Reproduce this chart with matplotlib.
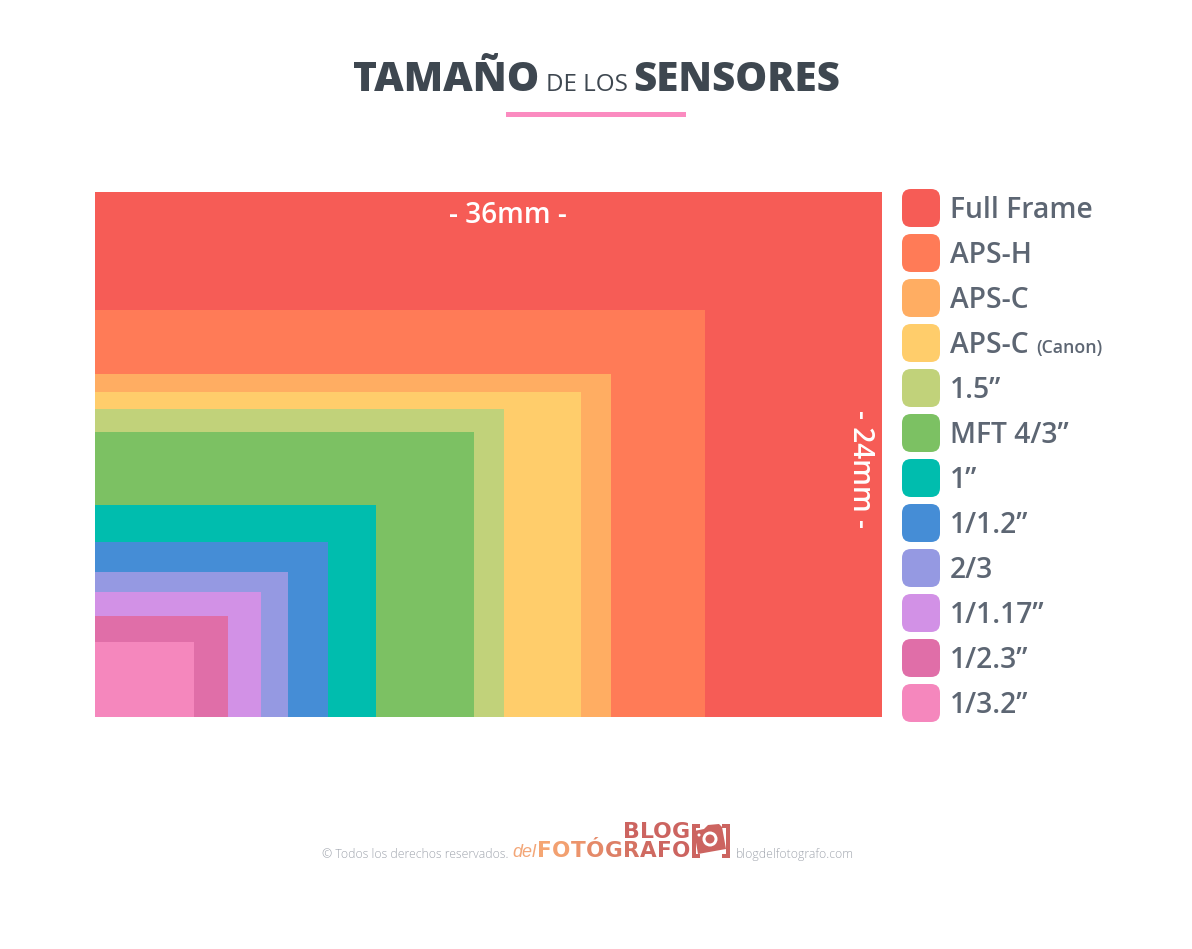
#!/usr/bin/env python3
"""Tamano de los sensores: nested sensor rectangles, all anchored bottom-left."""

import matplotlib
matplotlib.use("Agg")
import matplotlib.pyplot as plt
from matplotlib.patches import Circle, FancyBboxPatch, Polygon, Rectangle

W, H = 1192, 949

sensor_names = ["Full Frame", "APS-H", "APS-C", "APS-C", "1.5”", "MFT 4/3”",
                "1”", "1/1.2”", "2/3", "1/1.17”", "1/2.3”", "1/3.2”"]
widths_mm = [36.0, 27.9, 23.6, 22.25, 18.7, 17.35, 12.85, 10.65, 8.83, 7.6, 6.08, 4.54]
heights_mm = [24.0, 18.6, 15.7, 14.85, 14.1, 13.05, 9.7, 8.0, 6.65, 5.7, 4.6, 3.42]
colors = ["#f65c56", "#ff7b57", "#ffad62", "#ffcd6b", "#c1d27a", "#7cc163",
          "#00bdae", "#458dd6", "#9599e2", "#d291e6", "#e06ea8", "#f587bd"]

TEXT_DARK = "#3e4750"
TEXT_MID = "#5d6673"
FONT = "Open Sans"

fig = plt.figure(figsize=(W / 100, H / 100), dpi=100, facecolor="white")

# page axes in pixel coordinates, used for text, legend and logo
page = fig.add_axes([0, 0, 1, 1])
page.set_xlim(0, W)
page.set_ylim(H, 0)
page.axis("off")

# sensor axes in millimetres
ax = fig.add_axes([95 / W, 1 - 717 / H, 787 / W, 525 / H])
ax.set_xlim(0, 36)
ax.set_ylim(0, 24)
ax.axis("off")
for w, h, c in zip(widths_mm, heights_mm, colors):
    ax.add_patch(Rectangle((0, 0), w, h, facecolor=c, edgecolor="none"))

ax.text(0.525, 0.956, "- 36mm -", transform=ax.transAxes, ha="center", va="center",
        color="white", fontsize=20.2, family=FONT, fontweight="semibold")
ax.text(0.973, 0.473, "- 24mm -", transform=ax.transAxes, ha="center", va="center",
        rotation=-90, color="white", fontsize=20.2, family=FONT, fontweight="semibold")


def put(x, y, s, size, color, weight="normal", ha="left", style="normal", family=FONT):
    return page.text(x, y, s, fontsize=size, color=color, fontweight=weight, ha=ha,
                     va="baseline", style=style, family=family)


def spaced_letters(x0, x1, y, word, size, word_colors):
    """Lay letters of a logo word side by side so they fill x0..x1."""
    texts = [put(0, y, s, size, c, "bold", family="DejaVu Sans")
             for s, c in zip(word, word_colors)]
    renderer = fig.canvas.get_renderer()
    widths = [t.get_window_extent(renderer).width for t in texts]
    gap = (x1 - x0 - sum(widths)) / (len(word) - 1)
    x = x0
    for t, w in zip(texts, widths):
        t.set_x(x)
        x += w + gap


# title
put(353, 91, "TAMAÑO", 29.3, TEXT_DARK, "heavy")
put(546, 91, "DE LOS", 17.4, TEXT_DARK)
put(633, 91, "SENSORES", 29, TEXT_DARK, "heavy")
page.add_patch(Rectangle((506, 112), 180, 5, facecolor="#fb8bc0", edgecolor="none"))

# legend
for i, (name, c) in enumerate(zip(sensor_names, colors)):
    top = 189 + 45 * i
    page.add_patch(FancyBboxPatch((902 + 8, top + 8), 22, 22,
                                  boxstyle="round,pad=8,rounding_size=9",
                                  facecolor=c, edgecolor="none"))
    put(950, top + 29, name, 20.3, TEXT_MID, "semibold")
    if i == 3:
        put(1036, top + 29, "(Canon)", 12.8, TEXT_MID, "semibold")

# footer
put(322, 858, "© Todos los derechos reservados.", 8.7, "#9fa4ad", "light")
put(736, 858, "blogdelfotografo.com", 8.7, "#9fa4ad", "light")

# logo
put(512, 857, "del", 13, "#f3a677", style="italic", family="Liberation Sans")
logo_red = "#cc6460"
fotografo_colors = ["#f5a673", "#f2a070", "#ec946c", "#e58a69", "#dd7f66",
                    "#d57363", "#cf6a61", "#cd6661", "#cc6460"]
spaced_letters(537, 690, 857, "FOTÓGRAFO", 15.5, fotografo_colors)
spaced_letters(623, 690, 838, "BLOG", 15.8, [logo_red] * 4)

for x0, x1, side in ((692, 700, 692), (722, 730, 726)):
    page.add_patch(Rectangle((x0, 824), x1 - x0, 4, facecolor=logo_red, edgecolor="none"))
    page.add_patch(Rectangle((x0, 854), x1 - x0, 4, facecolor=logo_red, edgecolor="none"))
    page.add_patch(Rectangle((side, 824), 4, 34, facecolor=logo_red, edgecolor="none"))
page.add_patch(Polygon([(694, 831), (704, 829), (708, 825), (719, 824), (722, 827),
                        (726, 849), (698, 854)],
                       facecolor=logo_red, edgecolor="none"))
page.add_patch(Circle((710, 839), 7.5, facecolor="white", edgecolor="none"))
page.add_patch(Circle((710, 839), 4.5, facecolor=logo_red, edgecolor="none"))
page.add_patch(Circle((699, 835), 1.5, facecolor="white", edgecolor="none"))

fig.savefig("out.png", dpi=100, facecolor="white")
